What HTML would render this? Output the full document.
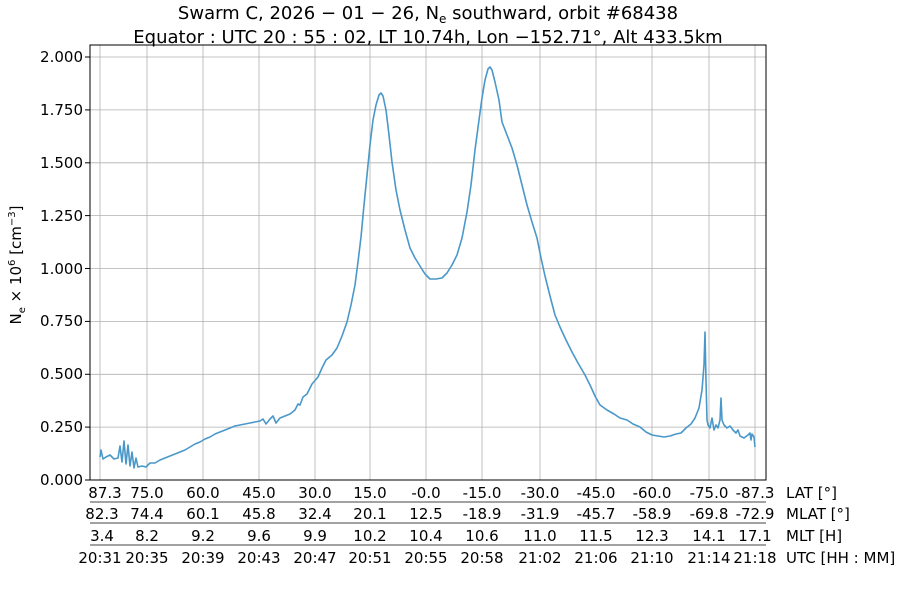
<!DOCTYPE html>
<html><head><meta charset="utf-8"><style>
body{margin:0;background:#fff;}
svg text{font-family:"DejaVu Sans","Liberation Sans",sans-serif;fill:#000;}
</style></head><body>
<svg width="900" height="600" xmlns="http://www.w3.org/2000/svg">
<rect width="900" height="600" fill="#fff"/>
<g stroke="#b0b0b0" stroke-width="0.8">
<line x1="100" y1="45" x2="100" y2="480"/><line x1="147" y1="45" x2="147" y2="480"/>
<line x1="203" y1="45" x2="203" y2="480"/><line x1="259" y1="45" x2="259" y2="480"/>
<line x1="315" y1="45" x2="315" y2="480"/><line x1="370" y1="45" x2="370" y2="480"/>
<line x1="426" y1="45" x2="426" y2="480"/><line x1="482" y1="45" x2="482" y2="480"/>
<line x1="540" y1="45" x2="540" y2="480"/><line x1="596" y1="45" x2="596" y2="480"/>
<line x1="652" y1="45" x2="652" y2="480"/><line x1="709" y1="45" x2="709" y2="480"/>
<line x1="755" y1="45" x2="755" y2="480"/>
<line x1="90" y1="427.1" x2="766" y2="427.1"/><line x1="90" y1="374.3" x2="766" y2="374.3"/>
<line x1="90" y1="321.4" x2="766" y2="321.4"/><line x1="90" y1="268.5" x2="766" y2="268.5"/>
<line x1="90" y1="215.6" x2="766" y2="215.6"/><line x1="90" y1="162.8" x2="766" y2="162.8"/>
<line x1="90" y1="109.9" x2="766" y2="109.9"/><line x1="90" y1="57" x2="766" y2="57"/>
</g>
<polyline fill="none" stroke="#4a98c9" stroke-width="1.6" stroke-linejoin="round" points="
100,457 101,450 103,459 106,457 110,455 114,459 118,458 120,446 122,462 124,441 126,464 128,445 130,466 132,452 134,468 136,458 138,467 142,466 146,467 150,463 155,463 160,460 165,458 170,456 175,454 180,452 185,450 190,447 195,444 200,442 205,439 210,437 215,434 220,432 225,430 230,428 235,426 240,425 245,424 250,423 255,422 260,421 263,419 266,424 270,419 273,416 276,423 280,418 285,416 290,414 295,410 298,404 300,405 303,397 307,394 312,384 318,377 322,368 326,360 332,355 337,348 342,336 347,322 351,305 355,285 358,262 361,237 364,205 367,175 370,145 373,120 376,105 379,95 381,93 383,96 386,110 389,135 392,162 396,190 400,210 405,230 410,248 415,258 420,266 425,274 430,279 436,279 442,278 447,273 452,265 457,255 462,238 467,212 471,185 475,150 479,120 482,98 485,80 488,69 490,67 492,70 495,82 499,100 502,122 507,135 512,148 517,165 522,185 527,205 532,222 537,238 541,258 545,276 550,296 555,315 560,327 566,340 572,352 578,363 585,375 590,385 595,396 600,405 607,410 614,414 620,418 627,420 633,424 640,427 646,432 652,435 658,436 664,437 670,436 676,434 681,433 686,428 691,424 695,418 699,408 702,390 704,365 705,332 706,380 707,420 708,425 710,428 712,418 714,430 716,425 718,428 720,420 721,398 722,420 724,425 727,428 730,426 733,430 736,433 738,430 740,436 744,438 748,435 750,433 751,440 752,434 754,437 755,447"/>
<rect x="90" y="45" width="676" height="435" fill="none" stroke="#000" stroke-width="1"/>
<g stroke="#000" stroke-width="1">
<line x1="85" y1="480" x2="90" y2="480"/><line x1="85" y1="427.1" x2="90" y2="427.1"/><line x1="85" y1="374.3" x2="90" y2="374.3"/><line x1="85" y1="321.4" x2="90" y2="321.4"/><line x1="85" y1="268.5" x2="90" y2="268.5"/><line x1="85" y1="215.6" x2="90" y2="215.6"/><line x1="85" y1="162.8" x2="90" y2="162.8"/><line x1="85" y1="109.9" x2="90" y2="109.9"/><line x1="85" y1="57" x2="90" y2="57"/>
</g>
<g stroke="#444" stroke-width="1">
<line x1="90" y1="502" x2="766" y2="502"/><line x1="90" y1="523" x2="766" y2="523"/><line x1="90" y1="545" x2="766" y2="545"/>
</g>
<g font-size="15" text-anchor="end">
<text x="83" y="485">0.000</text><text x="83" y="432">0.250</text><text x="83" y="379">0.500</text><text x="83" y="326">0.750</text><text x="83" y="274">1.000</text><text x="83" y="221">1.250</text><text x="83" y="168">1.500</text><text x="83" y="115">1.750</text><text x="83" y="62">2.000</text>
</g>
<g font-size="15" text-anchor="middle">
<g transform="translate(0,498)"><text x="105">87.3</text><text x="147">75.0</text><text x="203">60.0</text><text x="259">45.0</text><text x="315">30.0</text><text x="370">15.0</text><text x="426">-0.0</text><text x="482">-15.0</text><text x="540">-30.0</text><text x="596">-45.0</text><text x="652">-60.0</text><text x="709">-75.0</text><text x="755">-87.3</text></g>
<g transform="translate(0,519)"><text x="102">82.3</text><text x="147">74.4</text><text x="203">60.1</text><text x="259">45.8</text><text x="315">32.4</text><text x="370">20.1</text><text x="426">12.5</text><text x="482">-18.9</text><text x="540">-31.9</text><text x="596">-45.7</text><text x="652">-58.9</text><text x="709">-69.8</text><text x="755">-72.9</text></g>
<g transform="translate(0,541)"><text x="102">3.4</text><text x="147">8.2</text><text x="203">9.2</text><text x="259">9.6</text><text x="315">9.9</text><text x="370">10.2</text><text x="426">10.4</text><text x="482">10.6</text><text x="540">11.0</text><text x="596">11.5</text><text x="652">12.3</text><text x="709">14.1</text><text x="755">17.1</text></g>
<g transform="translate(0,563)"><text x="100">20:31</text><text x="147">20:35</text><text x="203">20:39</text><text x="259">20:43</text><text x="315">20:47</text><text x="370">20:51</text><text x="426">20:55</text><text x="482">20:58</text><text x="540">21:02</text><text x="596">21:06</text><text x="652">21:10</text><text x="709">21:14</text><text x="755">21:18</text></g>
</g>
<g font-size="15">
<text x="786" y="498">LAT [°]</text><text x="786" y="519">MLAT [°]</text><text x="786" y="541">MLT [H]</text><text x="786" y="563">UTC [HH : MM]</text>
</g>
<g font-size="18" text-anchor="middle">
<text x="428" y="19">Swarm C,  2026 − 01 − 26,  N<tspan font-size="12" dy="4">e</tspan><tspan dy="-4"> southward,  orbit #68438</tspan></text>
<text x="428" y="43">Equator :  UTC 20 : 55 : 02,  LT 10.74h,  Lon  −152.71°,  Alt 433.5km</text>
</g>
<text transform="translate(21,265) rotate(-90)" font-size="15" text-anchor="middle">N<tspan font-size="10" dy="4">e</tspan><tspan dy="-4"> × 10</tspan><tspan font-size="10" dy="-6">6</tspan><tspan dy="6"> [cm</tspan><tspan font-size="10" dy="-6">−3</tspan><tspan dy="6">]</tspan></text>
</svg>
</body></html>
